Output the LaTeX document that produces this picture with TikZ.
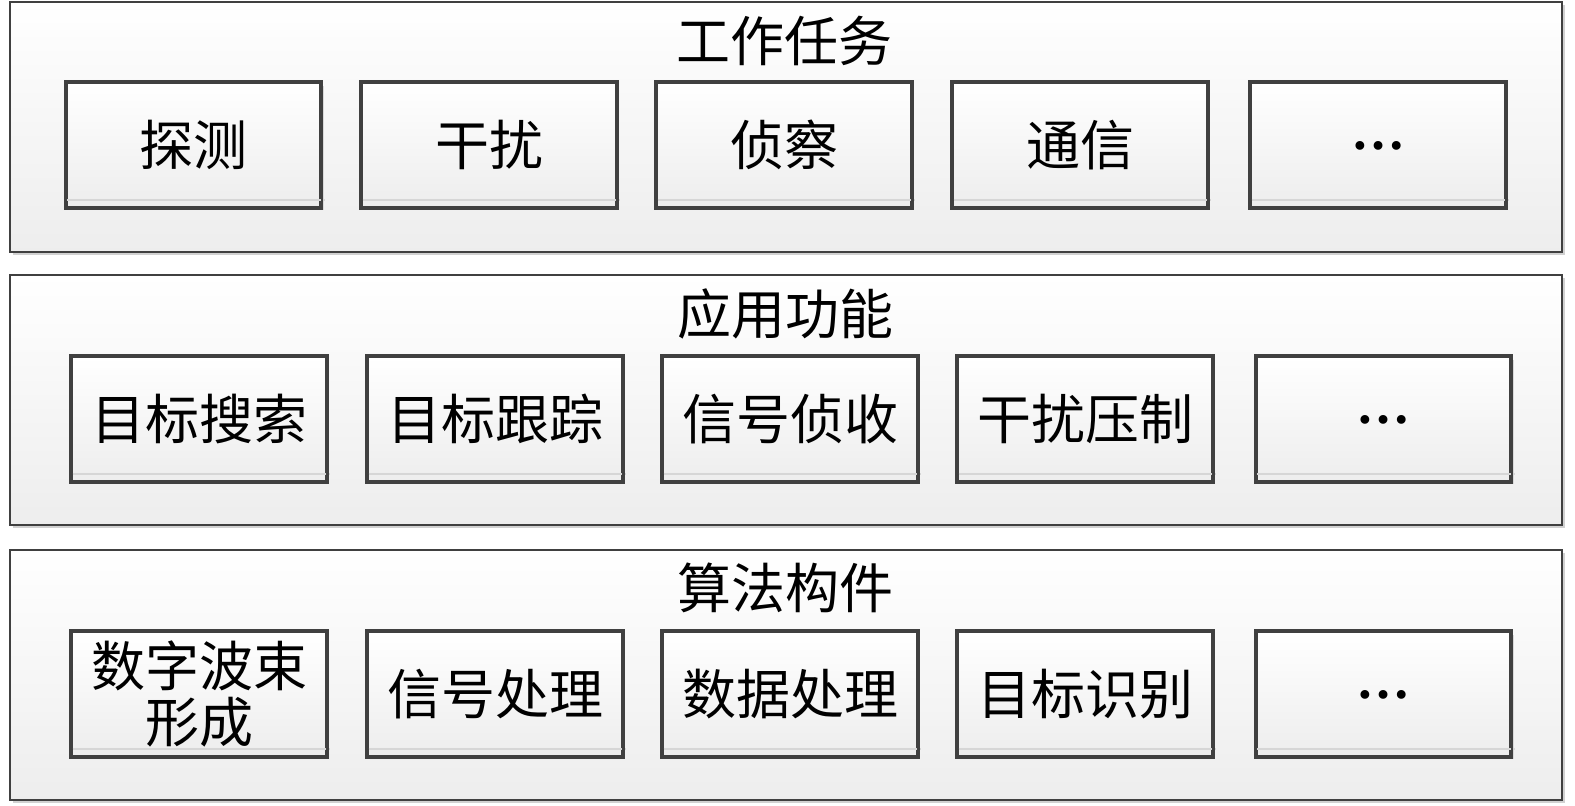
\documentclass[tikz,border=0pt]{standalone}
\usepackage{fontspec}
\usetikzlibrary{shadows}
\newfontfamily\cjk{Noto Sans CJK SC}
\newfontfamily\libserifb{Liberation Serif Bold}
\definecolor{bordc}{HTML}{404040}
\begin{document}
\begin{tikzpicture}[x=0.5pt,y=-0.5pt,
  outer/.style={draw=bordc, line width=1.3pt, top color=white, bottom color=black!7,
    minimum width=776pt, minimum height=125pt, inner sep=0pt,
    drop shadow={shadow xshift=1.5pt, shadow yshift=-1.5pt, fill=black!18, opacity=1}},
  inbox/.style={draw=bordc, line width=1.3pt, top color=white, bottom color=black!7,
    minimum width=127pt, minimum height=62pt, inner sep=0pt,
    font=\cjk\fontsize{27}{28.5}\selectfont, align=center,
    drop shadow={shadow xshift=1.5pt, shadow yshift=-1.5pt, fill=black!15, opacity=1}},
  title/.style={font=\cjk\fontsize{27}{29}\selectfont, inner sep=0pt},
  dotstext/.style={font=\libserifb\fontsize{27}{30}\selectfont, inner sep=0pt, anchor=base},
  refl/.style={draw=black!16, line width=1pt}
]
\useasboundingbox (0,0) rectangle (1575,806);

% outer layers
\node[outer] (L1) at (786,127) {};
\node[outer] (L2) at (786,400) {};
\node[outer] (L3) at (786,675) {};

\node[title] (T1) at (784,41) {工作任务};
\node[title] (T2) at (785,314) {应用功能};
\node[title] (T3) at (785,588) {算法构件};

% row 1
\node[inbox] (a1) at (193.5,145) {探测};
\node[inbox] (a2) at (489,145) {干扰};
\node[inbox] (a3) at (784,145) {侦察};
\node[inbox] (a4) at (1080,145) {通信};
\node[inbox] (a5) at (1378,145) {};

% row 2
\node[inbox] (b1) at (199,419) {目标搜索};
\node[inbox] (b2) at (495,419) {目标跟踪};
\node[inbox] (b3) at (790,419) {信号侦收};
\node[inbox] (b4) at (1085,419) {干扰压制};
\node[inbox] (b5) at (1383.5,419) {};

% row 3
\node[inbox] (c1) at (199,694) {数字波束\\[-0.5pt]形成};
\node[inbox] (c2) at (495,694) {信号处理};
\node[inbox] (c3) at (790,694) {数据处理};
\node[inbox] (c4) at (1085,694) {目标识别};
\node[inbox] (c5) at (1383.5,694) {};

% ellipsis texts
\node[dotstext] (d1) at ([yshift=-2.2pt]a5.center) {…};
\node[dotstext] (d2) at ([yshift=-2.2pt]b5.center) {…};
\node[dotstext] (d3) at ([yshift=-2.2pt]c5.center) {…};

% reflection lines inside the boxes
\foreach \n in {a1,a2,a3,a4,a5,b1,b2,b3,b4,b5,c1,c2,c3,c4,c5}{
  \draw[refl] ([xshift=1pt,yshift=4pt]\n.south west) -- ([xshift=1.5pt,yshift=4pt]\n.south east);
  \draw[draw=bordc, line width=1.3pt] (\n.south west) rectangle (\n.north east);
}
\end{tikzpicture}
\end{document}
